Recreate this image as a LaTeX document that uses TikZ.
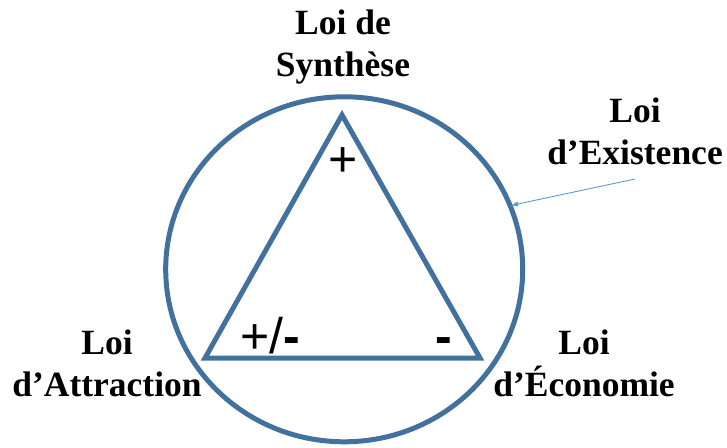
\documentclass[tikz,border=0pt]{standalone}
\usepackage{fontspec}
\setmainfont{Liberation Serif}
\newfontfamily\symfont{Liberation Sans}
\usepackage{tikz}
\usetikzlibrary{arrows.meta,positioning,shapes.geometric}
\definecolor{loiblue}{HTML}{41719C}
\definecolor{loilight}{HTML}{5B9BD5}

\begin{document}
\begin{tikzpicture}[
  x=1pt,y=1pt,
  loilabel/.style={align=center,font=\bfseries\fontsize{35.5}{42}\selectfont,inner sep=0pt},
  signlabel/.style={font=\symfont\fontsize{50}{50}\selectfont,inner sep=0pt,anchor=base}
]
\useasboundingbox (0,0) rectangle (727,447);
% cercle et triangle
\node[ellipse,draw=loiblue,line width=5pt,minimum width=357pt,minimum height=345pt,inner sep=0pt,outer sep=0pt] (ring) at (344.2,177.7) {};
\coordinate (apex) at (342,332);
\coordinate (left) at (205,89);
\coordinate (right) at (480,89);
\draw[loiblue,line width=5pt,line join=miter] (apex) -- (left) -- (right) -- cycle;
% signes
\node[signlabel] (plus) at (343,270) {+};
\node[signlabel] (plusminus) at (270,94) {+/\textbf{-}};
\node[signlabel] (minus) at (444,94) {\textbf{-}};
% lois
\node[loilabel] (synth) at (343,399.5) {Loi de\\Synthèse};
\node[loilabel] (attr) at (107,84) {Loi\\d’Attraction};
\node[loilabel] (econ) at (584,84) {Loi\\d’Économie};
\node[loilabel] (exist) at (635,315.5) {Loi\\d’Existence};
\coordinate (tail) at (635,268);
\draw[loilight,line width=0.9pt,-{Latex[length=8pt,width=5pt]}] (tail) -- (ring.21.7);
\end{tikzpicture}
\end{document}
